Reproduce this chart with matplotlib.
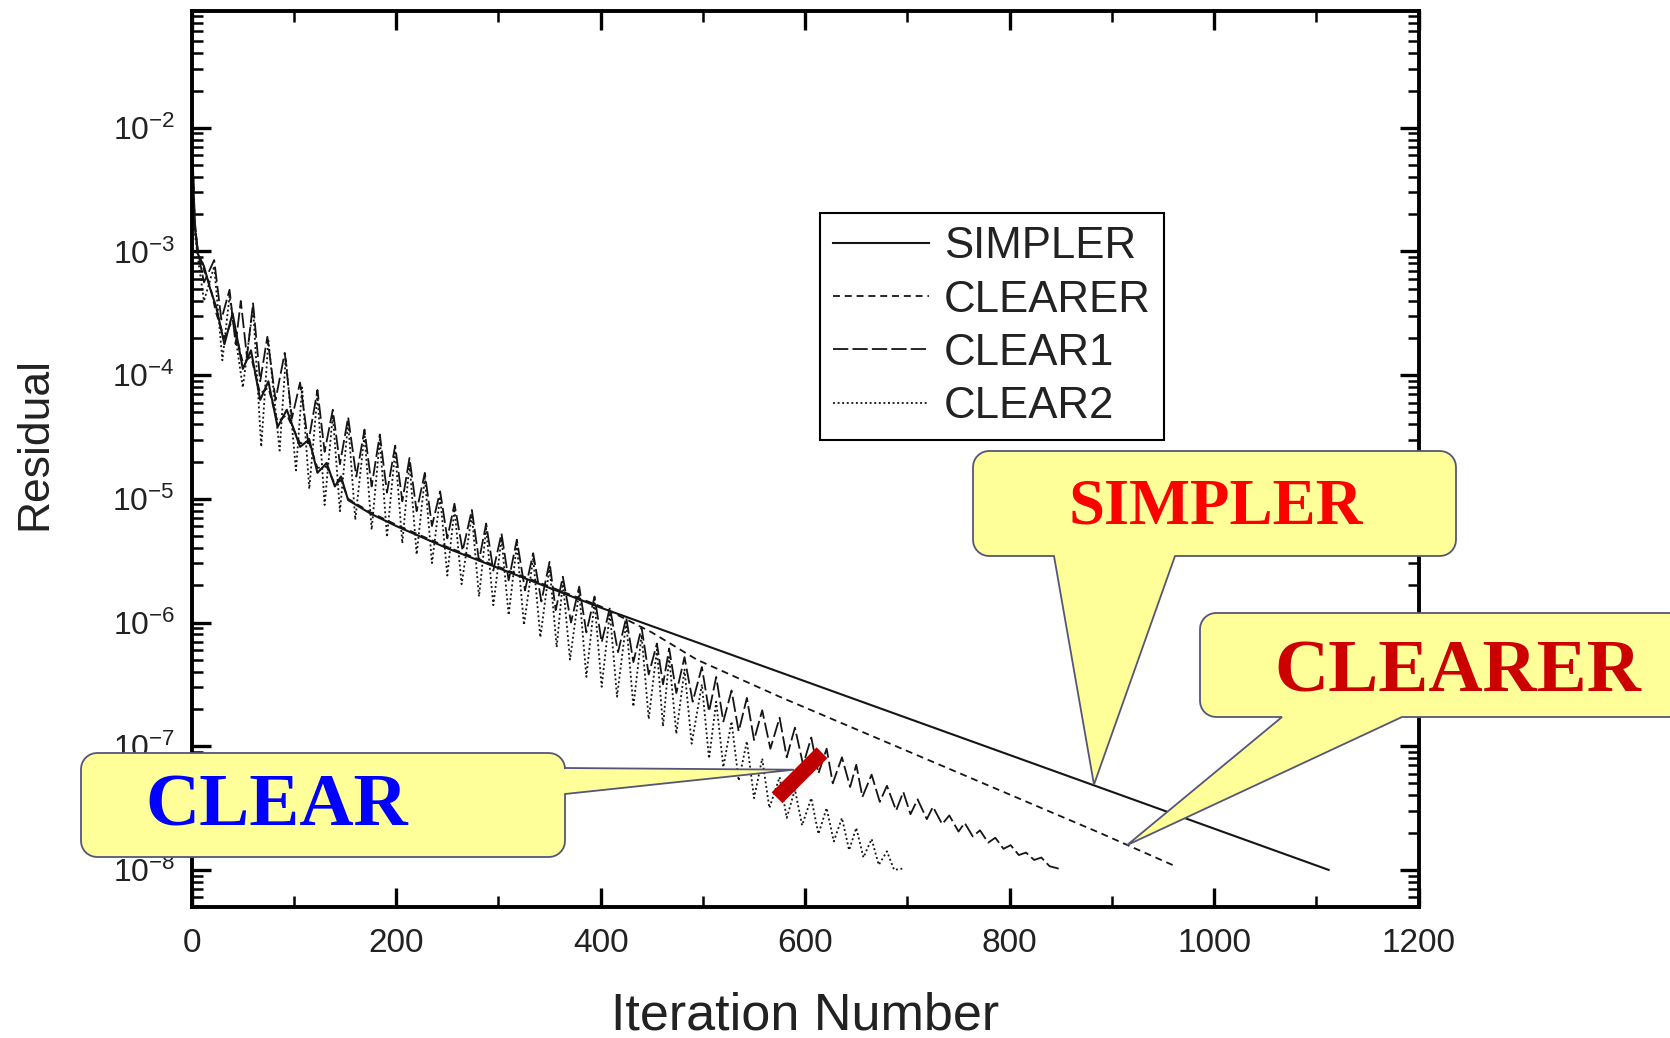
import numpy as np
import matplotlib
matplotlib.use("Agg")
import matplotlib.pyplot as plt
from matplotlib.patches import Polygon
from matplotlib.lines import Line2D
from matplotlib.ticker import LogLocator, MultipleLocator, FixedLocator

# ---------------- data (residuals stored as log10) ----------------
simpler_iter = [1, 3, 6, 12, 18, 24, 32, 40, 50, 58, 67, 75, 84, 93, 106, 115, 123, 132,
                140, 146, 153, 175, 200, 250, 300, 350, 400, 1112]
simpler_log10 = [-2.30, -2.80, -3.02, -3.12, -3.30, -3.45, -3.75, -3.50, -3.95, -3.80, -4.20,
                 -4.05, -4.42, -4.28, -4.58, -4.52, -4.79, -4.71, -4.90, -4.82, -5.01, -5.12,
                 -5.22, -5.40, -5.56, -5.72, -5.88, -8.00]

clearer_iter = [1, 3, 6, 12, 18, 24, 32, 40, 50, 58, 67, 75, 84, 93, 106, 115, 123, 132, 140,
                146, 153, 175, 200, 250, 300, 350, 400, 450, 494, 575, 888, 962]
clearer_log10 = [-2.28, -2.78, -3.00, -3.15, -3.28, -3.50, -3.70, -3.55, -3.90, -3.85, -4.15,
                 -4.10, -4.38, -4.32, -4.55, -4.55, -4.75, -4.74, -4.88, -4.85, -5.00, -5.11,
                 -5.21, -5.39, -5.55, -5.71, -5.87, -6.08, -6.30, -6.60, -7.70, -7.97]

clear1_iter = [1, 3, 6, 12, 22, 29, 37, 43, 48, 54, 60, 67, 74, 82, 91, 98, 106, 114, 123, 130,
               138, 145, 153, 161, 169, 176, 184, 191, 199, 206, 213, 220, 228, 235, 243, 250,
               257, 265, 274, 281, 288, 295, 303, 310, 318, 326, 334, 342, 350, 356, 363, 371,
               379, 386, 394, 401, 409, 417, 425, 432, 440, 447, 455, 461, 467, 474, 482, 490,
               499, 506, 513, 520, 528, 535, 543, 550, 558, 566, 575, 582, 590, 598, 606, 613,
               621, 627, 636, 644, 650, 656, 665, 673, 680, 689, 696, 703, 710, 719, 725, 734,
               741, 750, 756, 764, 771, 779, 786, 794, 801, 809, 816, 824, 831, 839, 848]
clear1_log10 = [-2.25, -2.75, -3.00, -3.25, -3.07, -3.55, -3.31, -3.75, -3.40, -3.85, -3.42,
                -4.05, -3.69, -4.20, -3.82, -4.35, -4.06, -4.55, -4.12, -4.62, -4.28, -4.72,
                -4.34, -4.82, -4.44, -4.90, -4.48, -4.95, -4.57, -5.02, -4.67, -5.10, -4.79,
                -5.22, -4.94, -5.32, -5.04, -5.42, -5.09, -5.50, -5.20, -5.58, -5.28, -5.66,
                -5.33, -5.74, -5.44, -5.83, -5.51, -5.90, -5.63, -6.00, -5.71, -6.08, -5.79,
                -6.16, -5.88, -6.24, -5.96, -6.32, -6.04, -6.42, -6.17, -6.50, -6.21, -6.57,
                -6.28, -6.64, -6.36, -6.72, -6.44, -6.80, -6.55, -6.88, -6.61, -6.95, -6.71,
                -7.02, -6.77, -7.09, -6.85, -7.15, -6.93, -7.22, -7.02, -7.30, -7.09, -7.33,
                -7.15, -7.41, -7.23, -7.45, -7.32, -7.52, -7.37, -7.55, -7.43, -7.59, -7.49,
                -7.63, -7.56, -7.69, -7.62, -7.73, -7.68, -7.78, -7.74, -7.83, -7.80, -7.88,
                -7.86, -7.92, -7.90, -7.97, -7.99]

clear2_iter = [1, 3, 6, 12, 22, 30, 37, 50, 60, 68, 75, 86, 92, 102, 108, 115, 123, 130, 138,
               145, 153, 160, 169, 176, 184, 191, 199, 206, 213, 220, 228, 235, 243, 250, 257,
               264, 274, 281, 288, 295, 303, 310, 318, 325, 334, 341, 350, 357, 363, 370, 379,
               386, 394, 401, 409, 416, 425, 432, 440, 447, 455, 461, 467, 474, 482, 489, 499,
               506, 513, 520, 528, 535, 543, 550, 558, 565, 575, 582, 590, 597, 606, 613, 621,
               628, 636, 643, 650, 657, 665, 672, 680, 687, 695]
clear2_log10 = [-2.30, -2.85, -3.05, -3.40, -3.12, -3.88, -3.36, -4.10, -3.45, -4.58, -3.72,
                -4.61, -3.86, -4.77, -4.10, -4.92, -4.16, -5.05, -4.32, -5.10, -4.38, -5.17,
                -4.48, -5.25, -4.52, -5.31, -4.61, -5.36, -4.71, -5.45, -4.83, -5.52, -4.98,
                -5.62, -5.08, -5.69, -5.13, -5.79, -5.24, -5.86, -5.32, -5.94, -5.37, -6.02,
                -5.48, -6.12, -5.55, -6.20, -5.67, -6.30, -5.75, -6.44, -5.83, -6.52, -5.92,
                -6.60, -6.00, -6.68, -6.10, -6.78, -6.22, -6.84, -6.28, -6.90, -6.38, -6.98,
                -6.50, -7.10, -6.64, -7.17, -6.80, -7.28, -6.96, -7.42, -7.10, -7.50, -7.25,
                -7.58, -7.35, -7.64, -7.42, -7.71, -7.50, -7.77, -7.58, -7.84, -7.66, -7.90,
                -7.75, -7.96, -7.85, -8.00, -7.99]

series_names = ["SIMPLER", "CLEARER", "CLEAR1", "CLEAR2"]
x_ticks = [0, 200, 400, 600, 800, 1000, 1200]
y_ticks = [1e-8, 1e-7, 1e-6, 1e-5, 1e-4, 1e-3, 1e-2]

# annotation anchors (iteration, residual)
simpler_tip = (882.5, 10 ** -7.31)
clearer_tip = (914.8, 10 ** -7.80)
clear_tip = (589.0, 10 ** -7.19)
red_bar_iter = [572.5, 616.5]
red_bar_res = [10 ** -7.417, 10 ** -7.053]

# ---------------- style ----------------
plt.rcParams.update({
    "font.family": ["Liberation Sans", "DejaVu Sans"],
    "mathtext.fontset": "custom",
    "mathtext.rm": "Liberation Sans",
    "mathtext.it": "Liberation Sans:italic",
    "mathtext.bf": "Liberation Sans:bold",
    "lines.scale_dashes": False,
})

W, H = 1670, 1038
fig = plt.figure(figsize=(W / 100, H / 100), dpi=100)
ax = fig.add_axes([191.7 / W, 1 - 907.0 / H, 1226.9 / W, 896.4 / H])

line_color = "#151515"
styles = {
    "SIMPLER": dict(linestyle="-", linewidth=1.5),
    "CLEARER": dict(linestyle=(0, (5.0, 3.5)), linewidth=1.3),
    "CLEAR1": dict(linestyle=(0, (11.0, 3.0)), linewidth=1.3),
    "CLEAR2": dict(linestyle=(0, (1.4, 1.9)), linewidth=1.3),
}
data = {
    "SIMPLER": (simpler_iter, simpler_log10),
    "CLEARER": (clearer_iter, clearer_log10),
    "CLEAR1": (clear1_iter, clear1_log10),
    "CLEAR2": (clear2_iter, clear2_log10),
}
handles = []
for name in series_names:
    xs, ls = data[name]
    (ln,) = ax.plot(np.asarray(xs), np.power(10.0, np.asarray(ls)), color=line_color,
                    label=name, **styles[name])
    handles.append(ln)

ax.set_yscale("log")
ax.set_xlim(0, 1200)
ax.set_ylim(10 ** -8.30, 10 ** -1.053)
ax.xaxis.set_major_locator(FixedLocator(x_ticks))
ax.xaxis.set_minor_locator(MultipleLocator(100))
ax.yaxis.set_major_locator(FixedLocator(y_ticks))
ax.yaxis.set_minor_locator(LogLocator(base=10, subs=np.arange(2, 10), numticks=200))

for sp in ax.spines.values():
    sp.set_linewidth(2.8)
    sp.set_color("black")

ax.tick_params(which="major", direction="in", length=14, width=2.4, top=True, right=True,
               colors="black", labelcolor="#222222")
ax.tick_params(which="minor", direction="in", length=8, width=1.8, top=True, right=True)
ax.tick_params(axis="x", which="major", labelsize=24, pad=15)
ax.tick_params(axis="y", which="major", labelsize=23, pad=12)

ax.set_xlabel("Iteration Number", fontsize=37.5, color="#222222")
ax.set_ylabel("Residual", fontsize=32, color="#222222")
ax.xaxis.set_label_coords(0.5, -0.094)
ax.yaxis.set_label_coords(-0.111, 0.5176)

leg = ax.legend(handles=handles, labels=series_names, loc="upper left",
                bbox_to_anchor=(0.512, 0.774), borderaxespad=0, fontsize=31.5,
                frameon=True, fancybox=False, edgecolor="black", framealpha=1,
                handlelength=2.2, handletextpad=0.33, borderpad=0.3, labelspacing=0.28)
leg.get_frame().set_linewidth(1.5)
for t in leg.get_texts():
    t.set_color("#222222")


# ---------------- callouts ----------------
def data_px(pt):
    d = ax.transData.transform(pt)
    return d[0], H - d[1]


def arc(cx, cy, r, a0, a1, n=8):
    ang = np.radians(np.linspace(a0, a1, n))
    return [(cx + r * np.cos(a), cy + r * np.sin(a)) for a in ang]


def callout(box, r, side, base, tip):
    x0, y0, x1, y1 = box
    v = []
    v += arc(x0 + r, y0 + r, r, 180, 270)
    v += arc(x1 - r, y0 + r, r, 270, 360)
    if side == "right":
        v += [(x1, base[0]), tip, (x1, base[1])]
    v += arc(x1 - r, y1 - r, r, 0, 90)
    if side == "bottom":
        v += [(base[1], y1), tip, (base[0], y1)]
    v += arc(x0 + r, y1 - r, r, 90, 180)
    pts = [(px / W, 1 - py / H) for px, py in v]
    poly = Polygon(pts, closed=True, transform=fig.transFigure, facecolor="#FFFF99",
                   edgecolor="#55557A", linewidth=1.3, joinstyle="miter", zorder=2)
    fig.add_artist(poly)


callout((973, 451, 1456, 556), 16, "bottom", (1054, 1175), data_px(simpler_tip))
callout((1200, 613, 1685, 717), 16, "bottom", (1282, 1402), data_px(clearer_tip))
callout((81, 753, 565, 857), 16, "right", (768, 794), data_px(clear_tip))

serif = ["Liberation Serif", "DejaVu Serif"]
fig.text(1216 / W, 1 - 524 / H, "SIMPLER", family=serif, weight="bold", fontsize=46.5,
         color="#FF0000", ha="center", va="baseline", zorder=4)
fig.text(1458 / W, 1 - 692 / H, "CLEARER", family=serif, weight="bold", fontsize=54,
         color="#CC0000", ha="center", va="baseline", zorder=4)
fig.text(277 / W, 1 - 826 / H, "CLEAR", family=serif, weight="bold", fontsize=54,
         color="#0000FF", ha="center", va="baseline", zorder=4)

bar = Line2D(red_bar_iter, red_bar_res, transform=ax.transData, color="#C00000",
             linewidth=11, solid_capstyle="butt", zorder=5)
fig.add_artist(bar)

fig.savefig("out.png", dpi=100)
